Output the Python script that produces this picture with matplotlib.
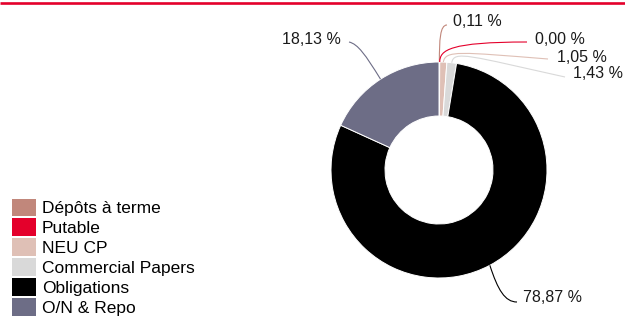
import numpy as np
import matplotlib
matplotlib.use("Agg")
import matplotlib.pyplot as plt
from matplotlib.path import Path
from matplotlib.patches import PathPatch, Patch

# données
categories = ["Dépôts à terme", "Putable", "NEU CP", "Commercial Papers", "Obligations", "O/N & Repo"]
values = [0.11, 0.00, 1.05, 1.43, 78.87, 18.13]
labels = ["0,11 %", "0,00 %", "1,05 %", "1,43 %", "78,87 %", "18,13 %"]
colors = ["#c1877b", "#e4002b", "#dfc0b6", "#d9d9d9", "#000000", "#6d6d86"]

W, H = 625, 318
plt.rcParams['font.family'] = ['Liberation Sans', 'DejaVu Sans']
FS = 11.5      # étiquettes
FS_LEG = 12.5  # légende

fig = plt.figure(figsize=(W / 100, H / 100), dpi=100)
ax = fig.add_axes([0, 0, 1, 1])


def Y(py):
    # pixel depuis le haut -> coordonnée de l'axe
    return H - py


cx, cy, R = 439, 170, 108
wedges, _ = ax.pie(values, colors=colors, startangle=90, counterclock=False,
                   center=(cx, Y(cy)), radius=R,
                   wedgeprops=dict(width=R * 0.5, edgecolor='white', linewidth=0.7))
ax.set_xlim(0, W)
ax.set_ylim(0, H)
ax.set_aspect('equal')
ax.axis('off')

# bandeau rouge en haut
ax.plot([0, W], [Y(2.5), Y(2.5)], color="#e4002b", lw=1.9, solid_capstyle='butt')

# étiquettes : (point de contrôle 1, point de contrôle 2, fin du trait, position du texte, alignement)
layout = [
    ((0, 40), (440, 25), (447, 25), (453, 21), 'left'),
    ((0, 50), (450, 42), (527, 42), (535, 40), 'left'),
    ((2, 50), (460, 52), (548, 59), (557, 57), 'left'),
    ((2, 50), (470, 56), (565, 77), (573, 73), 'left'),
    ((8, 290), (505, 302), (517, 302), (523, 298), 'left'),
    ((-15, 55), (358, 44), (349, 42), (341, 39), 'right'),
]

for w, lab, col, (c1, c2, end, txt, ha) in zip(wedges, labels, colors, layout):
    ang = np.deg2rad((w.theta1 + w.theta2) / 2)
    axp = cx + R * np.cos(ang)
    ayp = cy - R * np.sin(ang)
    p1 = (axp + c1[0], c1[1])
    verts = [(axp, Y(ayp)), (p1[0], Y(p1[1])), (c2[0], Y(c2[1])), (end[0], Y(end[1]))]
    codes = [Path.MOVETO, Path.CURVE4, Path.CURVE4, Path.CURVE4]
    ax.add_patch(PathPatch(Path(verts, codes), fill=False, edgecolor=col, lw=0.8))
    ax.text(txt[0], Y(txt[1]), lab, fontsize=FS, ha=ha, va='center', color='#1a1a1a')

handles = [Patch(facecolor=c, edgecolor='none') for c in colors]
fig.legend(handles, categories, loc='upper left', bbox_to_anchor=(12 / W, 1 - 198.5 / H),
           frameon=False, fontsize=FS_LEG, borderpad=0, borderaxespad=0,
           handlelength=1.38, handleheight=1.18, handletextpad=0.35, labelspacing=0.13)

fig.savefig("out.png", dpi=100)
